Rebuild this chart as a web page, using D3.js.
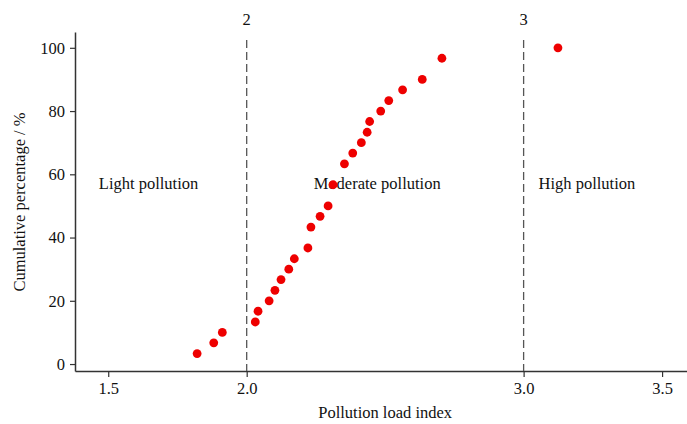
<!DOCTYPE html>
<html>
<head>
<meta charset="utf-8">
<script src="https://cdn.jsdelivr.net/npm/d3@7"></script>
<style>
  body { margin: 0; background: #fff; }
  svg text { font-family: "Liberation Serif", "Times New Roman", serif; fill: #111; }
</style>
</head>
<body>
<svg id="chart" width="687" height="424"></svg>
<script>
// pollution load index vs cumulative percentage
let pliValues = [1.821, 1.881, 1.912, 2.031, 2.041, 2.081, 2.102, 2.124, 2.152, 2.172, 2.221, 2.232,
  2.265, 2.294, 2.312, 2.353, 2.383, 2.414, 2.435, 2.444, 2.484, 2.513, 2.563, 2.634, 2.705, 3.124];
let cumPercent = [3.3, 6.7, 10, 13.3, 16.7, 20, 23.3, 26.7, 30, 33.3, 36.7, 43.3,
  46.7, 50, 56.7, 63.3, 66.7, 70, 73.3, 76.7, 80, 83.3, 86.7, 90, 96.7, 100];

let xTicks = [1.5, 2.0, 3.0, 3.5];
let yTicks = [0, 20, 40, 60, 80, 100];
let thresholds = [2, 3];
let zoneNames = ['Light pollution', 'Moderate pollution', 'High pollution'];
let zoneX = [1.466, 2.242, 3.054];
let zoneY = 55.3;

let fontSize = '16.5px';

let svg = d3.select('#chart');

let x = d3.scaleLinear().domain([1.38, 3.59]).range([75, 687]);
let y = d3.scaleLinear().domain([-2.2, 105]).range([371, 32]);

// x axis
let xAxis = svg.append('g')
    .attr('transform', 'translate(0,371)')
    .call(d3.axisBottom(x).tickValues(xTicks).tickFormat(d3.format('.1f')).tickSizeInner(6).tickSizeOuter(0).tickPadding(5));

// y axis
let yAxis = svg.append('g')
    .attr('transform', 'translate(75,0)')
    .call(d3.axisLeft(y).tickValues(yTicks).tickSizeInner(5).tickSizeOuter(0).tickPadding(5));

[xAxis, yAxis].forEach(function (g) {
  g.select('.domain').attr('stroke', '#333').attr('stroke-width', 1.5);
  g.selectAll('.tick line').attr('stroke', '#333').attr('stroke-width', 1.2);
  g.selectAll('.tick text')
      .style('font-family', '"Liberation Serif", serif')
      .style('font-size', fontSize)
      .attr('fill', '#111');
});

// threshold lines
svg.selectAll('.thr')
    .data(thresholds)
    .enter().append('line')
    .attr('x1', d => x(d))
    .attr('x2', d => x(d))
    .attr('y1', 40)
    .attr('y2', 371)
    .attr('stroke', '#555')
    .attr('stroke-width', 1.3)
    .attr('stroke-dasharray', '8,4');

svg.selectAll('.thr-label')
    .data(thresholds)
    .enter().append('text')
    .attr('x', d => x(d))
    .attr('y', 25)
    .attr('text-anchor', 'middle')
    .style('font-size', fontSize)
    .text(d => d);

// zone labels
svg.selectAll('.zone')
    .data(zoneNames)
    .enter().append('text')
    .attr('x', (d, i) => x(zoneX[i]))
    .attr('y', y(zoneY))
    .style('font-size', fontSize)
    .text(d => d);

// points
svg.selectAll('.pt')
    .data(pliValues)
    .enter().append('circle')
    .attr('cx', d => x(d))
    .attr('cy', (d, i) => y(cumPercent[i]))
    .attr('r', 4.4)
    .attr('fill', '#ee0000');

// axis titles
svg.append('text')
    .attr('x', x(2.5))
    .attr('y', 418)
    .attr('text-anchor', 'middle')
    .style('font-size', fontSize)
    .text('Pollution load index');

svg.append('text')
    .attr('transform', 'translate(25,202) rotate(-90)')
    .attr('text-anchor', 'middle')
    .style('font-size', fontSize)
    .text('Cumulative percentage / %');
</script>
</body>
</html>
